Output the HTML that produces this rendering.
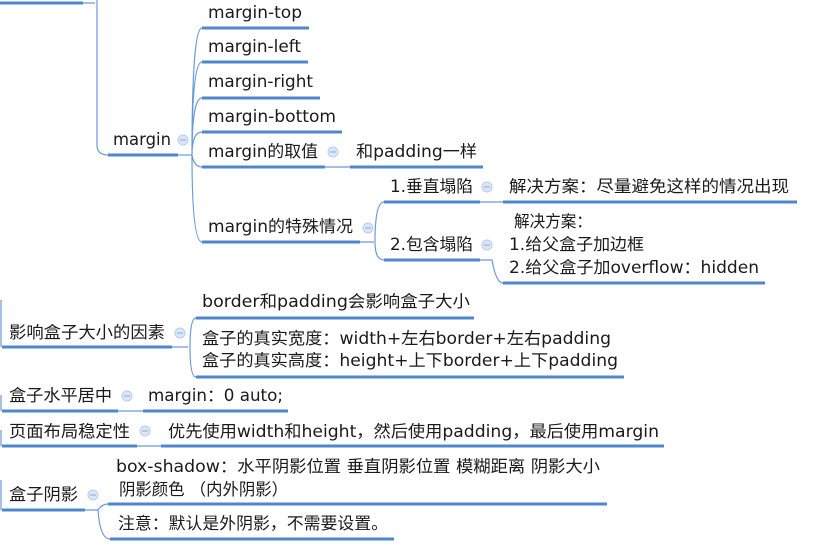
<!DOCTYPE html>
<html><head><meta charset="utf-8"><style>
html,body{margin:0;padding:0;background:#fff;width:836px;height:559px;overflow:hidden}
text{font-family:"DejaVu Sans","Noto Sans CJK SC",sans-serif;font-size:16.5px;fill:#1a1a1a}
.u{stroke:#4f87cf;stroke-width:3;fill:none}
.t{stroke:#6a9ad8;stroke-width:1.2;fill:none}
.c{fill:#dbe6f7;stroke:#b8cdef;stroke-width:1}
.m{stroke:#8aa9d8;stroke-width:1}
</style></head><body>
<svg width="836" height="559" viewBox="0 0 836 559" xmlns="http://www.w3.org/2000/svg">
<path class="u" d="M0 3H83"/>
<path class="t" d="M83 3H95 M97 0V145 Q97 155 108 155"/>
<path class="u" d="M108 155H178"/>
<text x="113" y="145" textLength="58" lengthAdjust="spacingAndGlyphs">margin</text>
<circle class="c" cx="183" cy="140" r="5"/><path class="m" d="M180 140H186"/>
<path class="t" d="M178 155H192"/>
<path class="t" d="M192 155 Q192 28 202 28 M192 155 Q192 62 202 62 M192 155 Q192 98 202 98 M192 155 Q192 132 202 132 M192 155 Q194 167 202 167 M192 155 Q192 242 202 242"/>
<path class="u" d="M202 28H309"/><text x="208" y="18" textLength="94" lengthAdjust="spacingAndGlyphs">margin-top</text>
<path class="u" d="M202 62H308"/><text x="208" y="52" textLength="93" lengthAdjust="spacingAndGlyphs">margin-left</text>
<path class="u" d="M202 98H320"/><text x="208" y="87" textLength="105" lengthAdjust="spacingAndGlyphs">margin-right</text>
<path class="u" d="M202 132H342"/><text x="208" y="122" textLength="128" lengthAdjust="spacingAndGlyphs">margin-bottom</text>
<path class="u" d="M202 167H325"/><text x="208" y="157" textLength="110" lengthAdjust="spacingAndGlyphs">margin的取值</text>
<circle class="c" cx="333" cy="152" r="5"/><path class="m" d="M330 152H336"/>
<path class="t" d="M325 167H350"/>
<path class="u" d="M350 167H483"/><text x="356" y="157" textLength="121" lengthAdjust="spacingAndGlyphs">和padding一样</text>
<path class="u" d="M202 242H360"/><text x="208" y="232" textLength="145" lengthAdjust="spacingAndGlyphs">margin的特殊情况</text>
<circle class="c" cx="368" cy="228" r="5"/><path class="m" d="M365 228H371"/>
<path class="t" d="M360 242H374 M375 242 Q375 202 384 202 M375 242 Q375 260 384 260"/>
<path class="u" d="M384 202H480"/><text x="390" y="192" textLength="83" lengthAdjust="spacingAndGlyphs">1.垂直塌陷</text>
<circle class="c" cx="487" cy="187" r="5"/><path class="m" d="M484 187H490"/>
<path class="t" d="M480 202H503"/>
<path class="u" d="M503 202H797"/><text x="509" y="192" textLength="280" lengthAdjust="spacingAndGlyphs">解决方案：尽量避免这样的情况出现</text>
<path class="u" d="M384 260H480"/><text x="390" y="250" textLength="83" lengthAdjust="spacingAndGlyphs">2.包含塌陷</text>
<circle class="c" cx="487" cy="245" r="5"/><path class="m" d="M484 245H490"/>
<path class="t" d="M480 260H492 Q496 283 503 283"/>
<path class="u" d="M503 283H765"/>
<text x="514" y="227" textLength="78" lengthAdjust="spacingAndGlyphs">解决方案：</text>
<text x="509" y="250" textLength="135" lengthAdjust="spacingAndGlyphs">1.给父盒子加边框</text>
<text x="509" y="273" textLength="250" lengthAdjust="spacingAndGlyphs">2.给父盒子加overflow：hidden</text>
<path class="t" d="M1 300V347 M1 395V411 M1 430V446 M1 480V510"/>
<path class="u" d="M2 347H172"/><text x="9" y="338" textLength="156" lengthAdjust="spacingAndGlyphs">影响盒子大小的因素</text>
<circle class="c" cx="180" cy="333" r="5"/><path class="m" d="M177 333H183"/>
<path class="t" d="M172 347H188 M190 347 Q190 318 196 318 M190 347 Q190 377 196 377"/>
<path class="u" d="M196 318H474"/><text x="202" y="307" textLength="268" lengthAdjust="spacingAndGlyphs">border和padding会影响盒子大小</text>
<path class="u" d="M196 377H624"/>
<text x="202" y="344" textLength="409" lengthAdjust="spacingAndGlyphs">盒子的真实宽度：width+左右border+左右padding</text>
<text x="202" y="366" textLength="416" lengthAdjust="spacingAndGlyphs">盒子的真实高度：height+上下border+上下padding</text>
<path class="u" d="M2 411H118"/><text x="9" y="401" textLength="103" lengthAdjust="spacingAndGlyphs">盒子水平居中</text>
<circle class="c" cx="127" cy="396" r="5"/><path class="m" d="M124 396H130"/>
<path class="t" d="M118 411H143"/>
<path class="u" d="M143 411H288"/><text x="148" y="401" textLength="135" lengthAdjust="spacingAndGlyphs">margin：0 auto;</text>
<path class="u" d="M2 446H137"/><text x="9" y="437" textLength="121" lengthAdjust="spacingAndGlyphs">页面布局稳定性</text>
<circle class="c" cx="145" cy="431" r="5"/><path class="m" d="M142 431H148"/>
<path class="t" d="M137 446H161"/>
<path class="u" d="M161 446H664"/><text x="168" y="437" textLength="491" lengthAdjust="spacingAndGlyphs">优先使用width和height，然后使用padding，最后使用margin</text>
<path class="u" d="M2 510H85"/><text x="9" y="500" textLength="69" lengthAdjust="spacingAndGlyphs">盒子阴影</text>
<circle class="c" cx="93" cy="495" r="5"/><path class="m" d="M90 495H96"/>
<path class="t" d="M85 510H98 Q102 504 108 504 M98 510 Q100 539 110 539"/>
<path class="u" d="M108 504H607"/>
<text x="116" y="472" textLength="484" lengthAdjust="spacingAndGlyphs">box-shadow：水平阴影位置 垂直阴影位置 模糊距离 阴影大小</text>
<text x="119" y="495" textLength="169" lengthAdjust="spacingAndGlyphs">阴影颜色 （内外阴影）</text>
<path class="u" d="M110 539H394"/><text x="118" y="529" textLength="270" lengthAdjust="spacingAndGlyphs">注意：默认是外阴影，不需要设置。</text>
</svg>
</body></html>
